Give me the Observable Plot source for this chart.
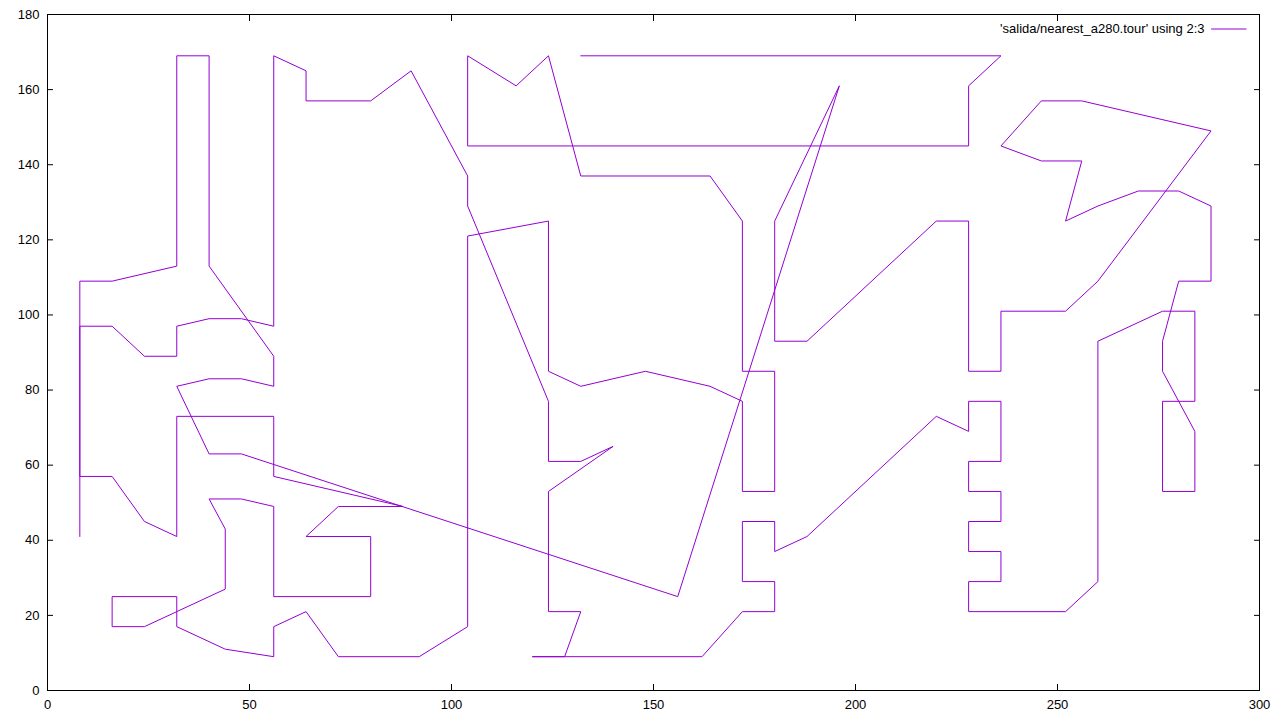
<!DOCTYPE html>
<html>
<head>
<meta charset="utf-8">
<script src="https://cdn.jsdelivr.net/npm/d3@7"></script>
<script src="https://cdn.jsdelivr.net/npm/@observablehq/plot@0.6"></script>
<style>
  html, body { margin: 0; padding: 0; background: #fff; }
  #chart { width: 1280px; height: 720px; }
</style>
</head>
<body>
<div id="chart"></div>
<script>
// Tour path (column 2 = x, column 3 = y), in drawing order
const tourX = [8, 8, 16, 32, 32, 40, 40, 56, 56, 48, 40, 32, 40, 48, 156, 196, 180, 180, 188, 220,
  228, 228, 236, 236, 252, 260, 288, 256, 246, 236, 246, 256, 252, 260, 270, 280, 288, 288, 280, 276,
  276, 284, 284, 276, 276, 284, 284, 276, 260, 260, 252, 228, 228, 236, 236, 228, 228, 236, 236, 228,
  228, 236, 236, 228, 228, 220, 188, 180, 180, 172, 172, 180, 180, 172, 162, 120, 128, 132, 124, 124,
  140, 132, 124, 124, 104, 104, 90, 80, 64, 64, 56, 56, 48, 40, 32, 32, 24, 16, 8, 8,
  16, 24, 32, 32, 56, 56, 88, 72, 64, 80, 80, 56, 56, 48, 40, 44, 44, 24, 16, 16,
  32, 32, 44, 56, 56, 64, 72, 92, 104, 104, 124, 124, 132, 148, 164, 172, 172, 180, 180, 172,
  172, 164, 132, 124, 116, 104, 104, 228, 228, 236, 132];
const tourY = [41, 109, 109, 113, 169, 169, 113, 89, 81, 83, 83, 81, 63, 63, 25, 161, 125, 93, 93, 125,
  125, 85, 85, 101, 101, 109, 149, 157, 157, 145, 141, 141, 125, 129, 133, 133, 129, 109, 109, 93,
  85, 69, 53, 53, 77, 77, 101, 101, 93, 29, 21, 21, 29, 29, 37, 37, 45, 45, 53, 53,
  61, 61, 77, 77, 69, 73, 41, 37, 45, 45, 29, 29, 21, 21, 9, 9, 9, 21, 21, 53,
  65, 61, 61, 77, 129, 137, 165, 157, 157, 165, 169, 97, 99, 99, 97, 89, 89, 97, 97, 57,
  57, 45, 41, 73, 73, 57, 49, 49, 41, 41, 25, 25, 49, 51, 51, 43, 27, 17, 17, 25,
  25, 17, 11, 9, 17, 21, 9, 9, 17, 121, 125, 85, 81, 85, 81, 77, 53, 53, 85, 85,
  125, 137, 137, 169, 161, 169, 145, 145, 161, 169, 169];

const xTicks = [0, 50, 100, 150, 200, 250, 300];
const yTicks = [0, 20, 40, 60, 80, 100, 120, 140, 160, 180];
const seriesLabel = "'salida/nearest_a280.tour' using 2:3";
const lineColor = "#9400d3";

const tour = tourX.map((x, i) => ({x, y: tourY[i]}));
const spike = {draw(ctx, l) { ctx.moveTo(0, 0); ctx.lineTo(0, -l); }};

const chart = Plot.plot({
  width: 1280,
  height: 720,
  marginLeft: 47,
  marginRight: 21,
  marginTop: 14,
  marginBottom: 30,
  style: {fontFamily: "'Liberation Sans', Arial, sans-serif", fontSize: "13px", color: "#000", background: "#fff"},
  x: {domain: [0, 300]},
  y: {domain: [0, 180]},
  marks: [
    Plot.line(tour, {x: "x", y: "y", stroke: lineColor, strokeWidth: 1}),
    Plot.frame({stroke: "#000", strokeWidth: 1}),
    Plot.axisX(xTicks, {anchor: "bottom", tickSize: -6, tickPadding: 15, label: null}),
    Plot.axisX(xTicks, {anchor: "top", tickSize: -6, tickFormat: () => "", label: null}),
    Plot.axisY(yTicks, {anchor: "left", tickSize: -6, tickPadding: 14, label: null}),
    Plot.axisY(yTicks, {anchor: "right", tickSize: -6, tickFormat: () => "", label: null}),
    Plot.text([seriesLabel], {frameAnchor: "top-right", text: d => d, textAnchor: "end", lineAnchor: "middle", dx: -55, dy: 14.5, fill: "#000"}),
    Plot.vector([0], {frameAnchor: "top-right", length: 34.6, rotate: 90, anchor: "start", shape: spike, stroke: lineColor, strokeWidth: 1, dx: -48, dy: 14.5})
  ]
});
document.getElementById("chart").appendChild(chart);
</script>
</body>
</html>
